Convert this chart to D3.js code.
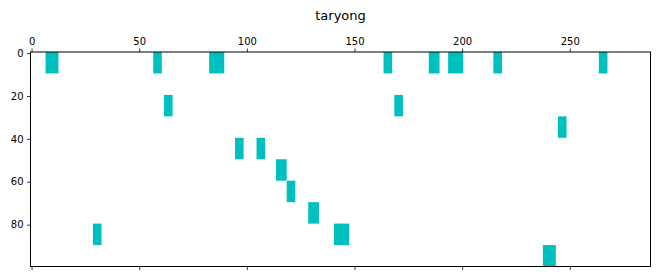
<!DOCTYPE html>
<html>
<head>
<meta charset="utf-8">
<script src="https://cdn.jsdelivr.net/npm/d3@7"></script>
<style>
  body { margin: 0; background: #fff; }
  text { font-family: "DejaVu Sans", sans-serif; }
</style>
</head>
<body>
<script>
"use strict"
// spy-style matrix, 100 rows x 288 columns, filled blocks of 10 rows each
const nRows = 100;
const nCols = 288;
const blockRow   = [0, 0, 0, 0, 0, 0, 0, 0, 2, 2, 3, 4, 4, 5, 6, 7, 8, 8, 9];
const blockStart = [7, 57, 83, 164, 185, 194, 215, 264, 62, 169, 245, 95, 105, 114, 119, 129, 29, 141, 238];
const blockEnd   = [13, 61, 90, 168, 190, 201, 219, 268, 66, 173, 249, 99, 109, 119, 123, 134, 33, 148, 244];
const xTicks = [0, 50, 100, 150, 200, 250];
const yTicks = [0, 20, 40, 60, 80];
const title = 'taryong';

const w = 657, h = 279;
const margin = {top: 52, right: 6.5, bottom: 12.5, left: 30.5};

const svg = d3.select('body')
	.append('svg')
	.attr('width', w)
	.attr('height', h);

const xScale = d3.scaleLinear()
	.domain([-0.5, nCols - 0.5])
	.range([margin.left, w - margin.right]);

const yScale = d3.scaleLinear()
	.domain([-0.5, nRows - 0.5])
	.range([margin.top, h - margin.bottom]);

const cells = blockRow.map((r, i) => ({row: r, start: blockStart[i], end: blockEnd[i]}));

svg.selectAll('rect.cell')
	.data(cells)
	.enter()
	.append('rect')
	.attr('class', 'cell')
	.attr('x', d => xScale(d.start - 0.5))
	.attr('y', d => yScale(d.row * 10 - 0.5))
	.attr('width', d => xScale(d.end - 0.5) - xScale(d.start - 0.5))
	.attr('height', d => yScale(d.row * 10 + 9.5) - yScale(d.row * 10 - 0.5))
	.attr('fill', '#00bfbf');

// frame
svg.append('rect')
	.attr('x', margin.left)
	.attr('y', margin.top)
	.attr('width', w - margin.left - margin.right)
	.attr('height', h - margin.top - margin.bottom)
	.attr('fill', 'none')
	.attr('stroke', '#000')
	.attr('stroke-width', 1);

function styleAxis(g) {
	g.select('.domain').remove();
	g.selectAll('.tick line').attr('stroke', '#000').attr('stroke-width', 0.8);
	g.selectAll('.tick text')
		.attr('fill', '#000')
		.style('font-family', '"DejaVu Sans", sans-serif')
		.style('font-size', '10px');
}

svg.append('g')
	.attr('transform', 'translate(0,' + margin.top + ')')
	.call(d3.axisTop(xScale).tickValues(xTicks).tickSize(3.5).tickPadding(3.5))
	.call(styleAxis);

svg.append('g')
	.attr('transform', 'translate(0,' + (h - margin.bottom) + ')')
	.call(d3.axisBottom(xScale).tickValues(xTicks).tickSize(3.5).tickFormat(''))
	.call(styleAxis);

svg.append('g')
	.attr('transform', 'translate(' + margin.left + ',0)')
	.call(d3.axisLeft(yScale).tickValues(yTicks).tickSize(3.5).tickPadding(3.5))
	.call(styleAxis);

svg.append('text')
	.attr('x', (margin.left + w - margin.right) / 2)
	.attr('y', 20)
	.attr('text-anchor', 'middle')
	.style('font-size', '13px')
	.attr('fill', '#000')
	.text(title);
</script>
</body>
</html>
